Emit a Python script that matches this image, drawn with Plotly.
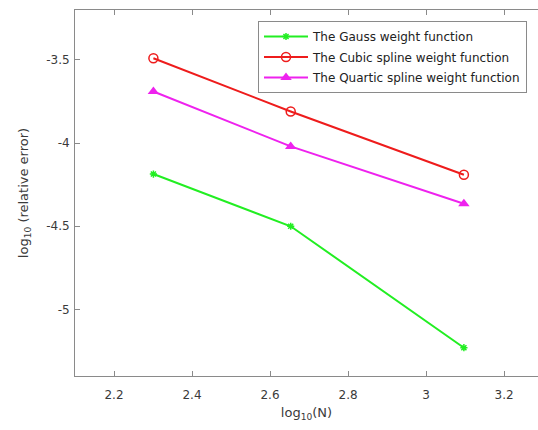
import plotly.graph_objects as go

# log10(N) sample sizes
log_n = [2.301, 2.653, 3.097]

# log10 of relative error for each weight function
gauss_err = [-4.186, -4.50, -5.23]
cubic_err = [-3.49, -3.81, -4.19]
quartic_err = [-3.69, -4.02, -4.365]

series_names = [
    "The Gauss weight function",
    "The Cubic spline weight function",
    "The Quartic spline weight function",
]

x_tick_vals = [2.2, 2.4, 2.6, 2.8, 3.0, 3.2]
x_tick_text = ["2.2", "2.4", "2.6", "2.8", "3", "3.2"]
y_tick_vals = [-5.0, -4.5, -4.0, -3.5]
y_tick_text = ["-5", "-4.5", "-4", "-3.5"]

FONT = "DejaVu Sans, Verdana, sans-serif"
TEXT_COLOR = "#3a3a3a"

fig = go.Figure()

fig.add_trace(go.Scatter(
    x=log_n, y=gauss_err, name=series_names[0], mode="lines+markers",
    legendgroup="g1",
    line=dict(color="#22ee22", width=2),
    marker=dict(symbol="asterisk-open", size=6, color="#22ee22",
                line=dict(color="#22ee22", width=1.5)),
))
fig.add_trace(go.Scatter(
    x=log_n, y=cubic_err, name=series_names[1], mode="lines+markers",
    legendgroup="g2",
    line=dict(color="#ee1c1c", width=2),
    marker=dict(symbol="circle-open", size=9, color="#ee1c1c",
                line=dict(color="#ee1c1c", width=1.5)),
))
fig.add_trace(go.Scatter(
    x=log_n, y=quartic_err, name=series_names[2], mode="lines+markers",
    legendgroup="g3",
    line=dict(color="#ee22ee", width=2),
    marker=dict(symbol="triangle-up", size=10, color="#ee22ee"),
))

axis_common = dict(
    showgrid=False, zeroline=False,
    showline=True, linecolor="#8a8a8a", linewidth=1,
    ticks="inside", ticklen=5, tickcolor="#8a8a8a", tickwidth=1,
    tickfont=dict(family=FONT, size=12, color=TEXT_COLOR),
)

fig.update_xaxes(
    range=[2.1, 3.287], tickvals=x_tick_vals, ticktext=x_tick_text,
    mirror="ticks", ticklabelstandoff=8,
    title=dict(text="log<sub>10</sub>(N)", standoff=6,
               font=dict(family=FONT, size=13, color=TEXT_COLOR)),
    **axis_common,
)
fig.update_yaxes(
    range=[-5.4, -3.2], tickvals=y_tick_vals, ticktext=y_tick_text,
    ticklabelstandoff=2,
    title=dict(text="log<sub>10</sub> (relative error)", standoff=14,
               font=dict(family=FONT, size=13, color=TEXT_COLOR)),
    **axis_common,
)

fig.update_layout(
    width=538, height=430,
    margin=dict(l=75, r=0, t=10, b=54, autoexpand=False),
    paper_bgcolor="white", plot_bgcolor="white",
    showlegend=True,
    legend=dict(
        x=(258 - 75) / 463, y=1 - 11 / 366, xanchor="left", yanchor="top",
        bgcolor="white", bordercolor="#8a8a8a", borderwidth=1,
        font=dict(family=FONT, size=12, color="#222222"),
        traceorder="grouped", tracegroupgap=1.5, itemwidth=44,
    ),
)

fig.write_html("out.html")
